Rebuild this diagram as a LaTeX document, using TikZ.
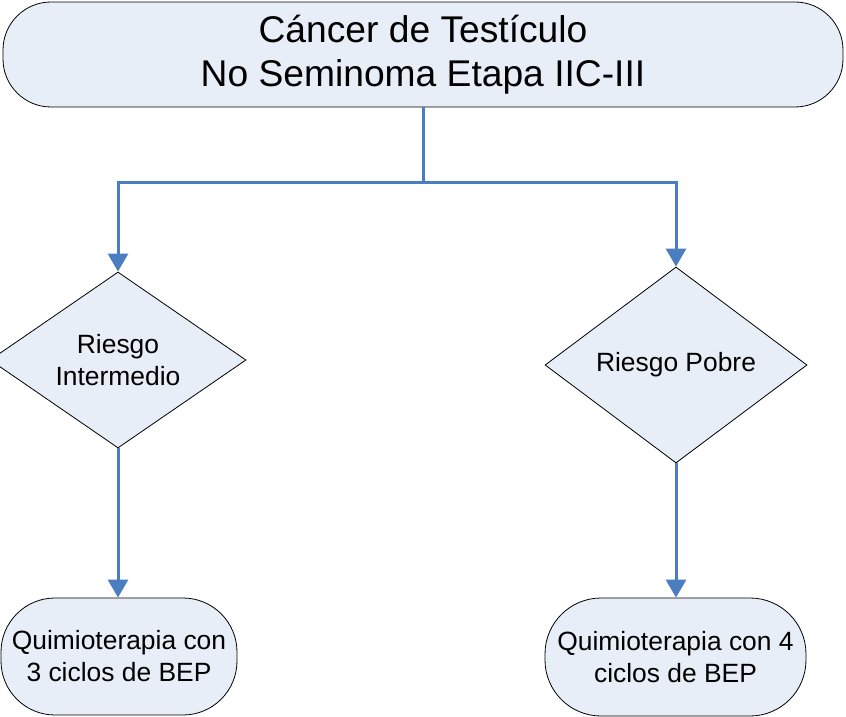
\documentclass[tikz,border=0pt]{standalone}
\usepackage{fontspec}
\setmainfont{Liberation Sans}
\usetikzlibrary{arrows.meta, shapes.geometric}
\definecolor{lineblue}{RGB}{74,126,192}
\definecolor{boxfill}{RGB}{232,238,247}

\begin{document}
\begin{tikzpicture}[
    x=0.5pt, y=0.5pt,
    stadium/.style={rectangle, draw, fill=boxfill, thin, align=center, inner sep=0pt},
    decision/.style={diamond, draw, fill=boxfill, thin, align=center, inner sep=0pt},
    arrow/.style={draw=lineblue, line width=1.5pt, -{Triangle[width=10pt, length=9pt]}}
]
\useasboundingbox (0,0) rectangle (846,-717);

\node (cancer) [stadium, minimum width=420pt, minimum height=52.5pt, rounded corners=24pt,
    font=\fontsize{18.6}{22}\selectfont] at (423,-54.5) {Cáncer de Testículo\\No Seminoma Etapa IIC-III};

\node (intermedio) [decision, minimum width=128pt, minimum height=88pt, aspect=1.45,
    font=\fontsize{13.2}{16}\selectfont] at (118,-360) {Riesgo\\Intermedio};
\node (pobre) [decision, minimum width=131pt, minimum height=98pt, aspect=1.34,
    font=\fontsize{13.2}{16}\selectfont] at (676,-365) {Riesgo Pobre};

\node (tres) [stadium, minimum width=118pt, minimum height=58.5pt, rounded corners=27pt,
    font=\fontsize{13.2}{16}\selectfont] at (119,-656.5) {Quimioterapia con\\3 ciclos de BEP};
\node (cuatro) [stadium, minimum width=130.5pt, minimum height=59pt, rounded corners=28pt,
    font=\fontsize{13.2}{16}\selectfont] at (675.5,-657) {Quimioterapia con 4\\ciclos de BEP};

\coordinate (split) at (423,-182);

\draw [arrow] (cancer.south) -- (split) -| (intermedio.north);
\draw [arrow] (split) -| (pobre.north);

\draw [arrow] (intermedio.south) -- (intermedio.south |- tres.north);
\draw [arrow] (pobre.south) -- (pobre.south |- cuatro.north);

\end{tikzpicture}
\end{document}
